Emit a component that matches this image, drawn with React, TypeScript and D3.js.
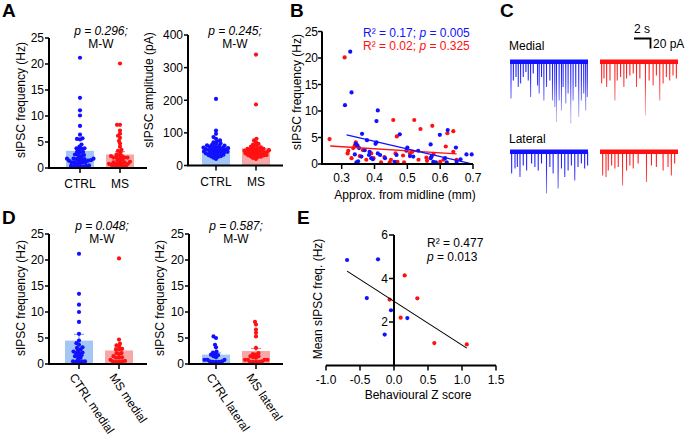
import React, { useEffect } from 'react';
import * as d3 from 'd3';

const FONT = "Arial, 'Liberation Sans', Helvetica, sans-serif";
const BLUE = '#1111ff';
const RED = '#ff1111';
const BAR_BLUE = '#a3c6f5';
const BAR_RED = '#f6a7a7';
const ERR_BLUE = '#86aef0';
const ERR_RED = '#f08a8a';

// ---------- Panel B data (distance mm, sIPSC frequency Hz) ----------
const bBlueX = [0.326, 0.31, 0.33, 0.41, 0.406, 0.362, 0.477, 0.377, 0.406, 0.403, 0.343, 0.348, 0.353, 0.34, 0.35, 0.345, 0.36, 0.385, 0.383, 0.39, 0.41, 0.417, 0.432, 0.461, 0.467, 0.5, 0.497, 0.508, 0.518, 0.533, 0.571, 0.574, 0.571, 0.579, 0.587, 0.599, 0.623, 0.615, 0.62, 0.648, 0.65, 0.662, 0.68, 0.696, 0.37, 0.395];
const bBlueY = [21.2, 11.1, 13.5, 10.1, 8.1, 5.7, 5.6, 4.5, 4.1, 3.8, 3.8, 3.5, 3.0, 1.8, 0.5, 0.3, 1.4, 2.3, 1.7, 1.1, 2.0, 1.7, 1.1, 0.4, 1.7, 3.1, 2.5, 1.5, 1.4, 2.5, 3.7, 1.4, 1.1, 0.4, 0.3, 5.5, 6.4, 1.1, 0.3, 3.1, 0.4, 0.9, 1.8, 1.8, 2.6, 0.9];
const bRedX = [0.309, 0.263, 0.457, 0.521, 0.54, 0.576, 0.622, 0.64, 0.468, 0.617, 0.343, 0.34, 0.335, 0.32, 0.318, 0.33, 0.365, 0.375, 0.39, 0.397, 0.42, 0.45, 0.446, 0.464, 0.487, 0.49, 0.508, 0.515, 0.534, 0.558, 0.56, 0.6, 0.61, 0.64, 0.65, 0.355, 0.43, 0.58, 0.47];
const bRedY = [20.1, 4.7, 8.3, 8.3, 6.6, 7.2, 5.8, 6.2, 5.2, 3.3, 4.1, 3.5, 3.0, 2.5, 2.0, 1.1, 2.6, 0.8, 2.0, 1.1, 0.3, 0.8, 0.3, 2.0, 1.6, 0.3, 2.0, 2.3, 0.8, 1.2, 0.6, 0.4, 0.8, 2.3, 0.8, 1.5, 1.3, 1.9, 0.4];
const bBlueFitX = [0.315, 0.69];
const bBlueFitY = [5.5, 0.1];
const bRedFitX = [0.265, 0.65];
const bRedFitY = [3.4, 1.9];

// ---------- Panel A ----------
const aCats = ['CTRL', 'MS'];
const aFreqMean = [3.3, 2.6];
const aFreqSem = [0.6, 0.55];
const aAmpCtrl = [204, 107, 97, 87, 82, 77, 71, 66, 61, 58, 56, 54, 51, 49, 49, 46, 44, 41, 39, 37, 35, 32, 28, 26, 31, 20, 63, 68, 74, 52, 47, 43, 38, 60, 55, 45, 42, 36, 33, 29, 24, 57, 62, 50, 40, 53];
const aAmpMs = [340, 187, 82, 77, 71, 64, 61, 56, 51, 51, 49, 46, 44, 44, 39, 37, 37, 32, 32, 31, 28, 26, 23, 20, 58, 53, 48, 42, 35, 30, 66, 45, 40, 34, 27, 54, 47, 41, 38];
const aAmpMean = [58, 54];
const aAmpSem = [5, 9];

// ---------- Panel D ----------
const dMedialCats = ['CTRL medial', 'MS medial'];
const dLateralCats = ['CTRL lateral', 'MS lateral'];
const dCtrlMedial = [21.2, 13.5, 11.4, 10.0, 8.1, 5.8, 4.5, 4.0, 3.7, 3.2, 2.8, 2.4, 2.2, 2.1, 2.1, 1.5, 3.1, 1.2, 0.5, 0.4, 0.5, 0.5, 0.4, 1.5, 1.7, 0.9, 2.6];
const dMsMedial = [20.3, 4.7, 3.9, 3.6, 3.4, 2.9, 2.8, 2.8, 2.1, 2.1, 1.9, 1.5, 1.3, 1.2, 1.2, 0.6, 0.5, 0.4, 0.4, 0.5, 0.8];
const dCtrlLateral = [5.3, 5.0, 3.7, 3.2, 2.4, 2.2, 1.9, 1.7, 1.5, 1.3, 0.8, 0.8, 0.5, 0.4, 0.4, 0.5, 0.4, 0.8, 1.8];
const dMsLateral = [8.1, 7.6, 6.6, 6.0, 5.3, 3.1, 2.1, 1.9, 1.8, 1.5, 1.5, 1.2, 1.3, 0.8, 0.8, 0.8, 0.8, 0.4, 0.4, 0.4, 0.4, 0.5];
const dMedialMean = [4.5, 2.6];
const dMedialSem = [1.2, 0.5];
const dLateralMean = [1.8, 2.5];
const dLateralSem = [0.35, 0.5];

// ---------- Panel E ----------
const eBlueX = [-0.69, -0.235, -0.4, -0.044, 0.196, -0.137];
const eBlueY = [4.85, 4.88, 3.1, 2.54, 2.18, 1.42];
const eRedX = [0.157, 0.343, -0.064, 0.098, 0.593, 1.07];
const eRedY = [4.14, 3.09, 3.03, 2.2, 1.03, 0.97];
const eFitX = [-0.69, 1.07];
const eFitY = [4.34, 0.8];

// ---------- Panel C (event time s, amplitude pA) ----------
const cMedBlueT = [0.13, 0.43, 0.77, 1.06, 1.36, 1.7, 2.04, 2.34, 2.64, 2.98, 3.53, 3.74, 4.04, 4.34, 4.68, 5.11, 5.45, 5.74, 5.96, 6.3, 6.6, 6.81, 7.15, 7.45, 7.79, 8.09, 8.43, 8.81, 9.15, 9.45, 9.7, 9.91];
const cMedBlueA = [73, 37, 30, 50, 43, 30, 20, 37, 70, 23, 47, 63, 30, 77, 50, 37, 77, 90, 120, 77, 97, 50, 83, 63, 123, 77, 50, 110, 77, 63, 97, 70];
const cMedRedT = [0.21, 0.51, 0.85, 1.28, 1.91, 2.21, 2.64, 3.06, 3.4, 3.83, 4.26, 4.68, 5.11, 5.83, 6.3, 6.81, 7.23, 7.66, 8.09, 8.51, 8.94, 9.36, 9.79];
const cMedRedA = [43, 33, 50, 37, 77, 37, 30, 50, 33, 27, 23, 50, 33, 107, 37, 47, 27, 77, 43, 30, 37, 27, 33];
const cLatBlueT = [0.21, 0.64, 0.94, 1.28, 1.7, 2.13, 2.77, 3.19, 3.62, 4.04, 4.68, 5.11, 5.53, 6.17, 6.6, 7.02, 7.45, 7.87, 8.3, 8.72, 9.15, 9.57, 9.95];
const cLatBlueA = [43, 33, 30, 50, 27, 37, 23, 30, 37, 23, 83, 30, 43, 73, 33, 50, 37, 27, 57, 30, 23, 33, 27];
const cLatRedT = [0.34, 0.77, 1.06, 1.49, 1.91, 2.34, 2.89, 3.4, 3.83, 4.26, 4.89, 5.96, 6.6, 7.23, 8.09, 8.72, 9.15, 9.57];
const cLatRedA = [47, 50, 37, 27, 33, 30, 67, 37, 27, 33, 23, 60, 27, 30, 37, 30, 47, 23];

function swarm(values: number[], cx: number, y: (v: number) => number, minDist: number) {
  const order = values.map((_, i) => i).sort((a, b) => values[a] - values[b]);
  const placed: [number, number][] = [];
  const out: [number, number][] = new Array(values.length);
  for (const i of order) {
    const py = y(values[i]);
    let best = 0;
    for (let k = 0; k < 400; k++) {
      const off = (k % 2 === 0 ? 1 : -1) * Math.ceil(k / 2) * 0.5;
      if (placed.every(([px, qy]) => (px - off) ** 2 + (qy - py) ** 2 >= minDist * minDist)) {
        best = off;
        break;
      }
    }
    placed.push([best, py]);
    out[i] = [cx + best, py];
  }
  return out;
}

type DotBarProps = {
  x0: number; x1: number; yTop: number; yBot: number;
  domain: [number, number]; ticks: number[];
  cats: string[]; catX: [number, number];
  groups: number[][]; means: number[]; sems: number[];
  rotated?: boolean;
  ylabel: string; ylabelX: number; ylabelY: number;
  pText: string; pX: number; pY: number;
};

function DotBar(p: DotBarProps) {
  const y = d3.scaleLinear().domain(p.domain).range([p.yBot, p.yTop]);
  const x = d3.scalePoint<string>().domain(p.cats).range(p.catX);
  const colors = [BLUE, RED];
  const barCols = [BAR_BLUE, BAR_RED];
  const errCols = [ERR_BLUE, ERR_RED];
  const bw = 28;
  return (
    <g>
      {p.cats.map((c, i) => (
        <rect key={'b' + i} x={(x(c) as number) - bw / 2} y={y(p.means[i])} width={bw}
          height={p.yBot - y(p.means[i])} fill={barCols[i]} />
      ))}
      {p.cats.map((c, i) => {
        const cx = x(c) as number;
        const top = y(p.means[i] + p.sems[i]);
        return (
          <g key={'e' + i} stroke={errCols[i]} strokeWidth={1.2}>
            <line x1={cx} x2={cx} y1={y(p.means[i])} y2={top} />
            <line x1={cx - 5} x2={cx + 5} y1={top} y2={top} />
          </g>
        );
      })}
      {p.groups.map((g, gi) =>
        swarm(g, x(p.cats[gi]) as number, y, 2.7).map(([px, py], i) => (
          <circle key={gi + '-' + i} cx={px} cy={py} r={2.1} fill={colors[gi]} />
        ))
      )}
      <line x1={p.x0} x2={p.x0} y1={p.yTop} y2={p.yBot} stroke="#000" strokeWidth={2} />
      <line x1={p.x0 - 1} x2={p.x1} y1={p.yBot} y2={p.yBot} stroke="#000" strokeWidth={2} />
      {p.ticks.map((t) => (
        <g key={'t' + t}>
          <line x1={p.x0 - 4} x2={p.x0} y1={y(t)} y2={y(t)} stroke="#000" strokeWidth={1.5} />
          <text x={p.x0 - 5} y={y(t)} dy="0.36em" textAnchor="end" fontSize={12}>{t}</text>
        </g>
      ))}
      {p.cats.map((c) => (
        <line key={'xt' + c} x1={x(c)} x2={x(c)} y1={p.yBot} y2={p.yBot + 5} stroke="#000" strokeWidth={1.5} />
      ))}
      {p.cats.map((c) =>
        p.rotated ? (
          <text key={'xl' + c} transform={`translate(${(x(c) as number) - 10},${p.yBot + 13}) rotate(56)`}
            fontSize={12}>{c}</text>
        ) : (
          <text key={'xl' + c} x={x(c)} y={p.yBot + 20} textAnchor="middle" fontSize={12}>{c}</text>
        )
      )}
      <text transform={`translate(${p.ylabelX},${p.ylabelY}) rotate(-90)`} textAnchor="middle" fontSize={12}>{p.ylabel}</text>
      <text x={p.pX} y={p.pY} textAnchor="middle" fontSize={12} fontStyle="italic">{p.pText}</text>
      <text x={p.pX} y={p.pY + 13} textAnchor="middle" fontSize={12}>M-W</text>
    </g>
  );
}

function Trace({ t, a, x0, base, color, light, id }: { t: number[]; a: number[]; x0: number; base: number; color: string; light: string; id: string }) {
  const xs = d3.scaleLinear().domain([0, 10]).range([x0, x0 + 78]);
  const ys = d3.scaleLinear().domain([0, 20]).range([0, 10]);
  return (
    <g>
      <defs>
        <linearGradient id={id} gradientUnits="userSpaceOnUse" x1={0} y1={base} x2={0} y2={base + 55}>
          <stop offset="0" stopColor={color} />
          <stop offset="0.35" stopColor={color} stopOpacity={0.85} />
          <stop offset="1" stopColor={light} stopOpacity={0.75} />
        </linearGradient>
      </defs>
      {t.map((tt, i) => (
        <line key={i} x1={xs(tt)} x2={xs(tt)} y1={base} y2={base + ys(a[i])} stroke={`url(#${id})`} strokeWidth={1.1} />
      ))}
      <rect x={x0} y={base - 2.5} width={78} height={4.5} fill={color} />
    </g>
  );
}

export default function App() {
  useEffect(() => {
    document.body.style.margin = '0';
  }, []);

  const bx = d3.scaleLinear().domain([0.24, 0.7]).range([322, 473]);
  const by = d3.scaleLinear().domain([0, 25]).range([164, 31.5]);
  const ex = d3.scaleLinear().domain([-1, 1.5]).range([326, 496]);
  const ey = d3.scaleLinear().domain([0, 6]).range([365.5, 235]);

  return (
    <svg width={685} height={436} style={{ position: 'absolute', left: 0, top: 0, fontFamily: FONT, background: '#fff' }}
      fontFamily={FONT}>
      <rect width={685} height={436} fill="#fff" />
      <g fontSize={19} fontWeight="bold">
        <text x={2} y={17}>A</text>
        <text x={290} y={17}>B</text>
        <text x={500} y={17}>C</text>
        <text x={2} y={224}>D</text>
        <text x={297} y={224}>E</text>
      </g>

      <DotBar x0={49} x1={147} yTop={38} yBot={168} domain={[0, 25]} ticks={[0, 5, 10, 15, 20, 25]}
        cats={aCats} catX={[80, 120]} groups={[bBlueY, bRedY]} means={aFreqMean} sems={aFreqSem}
        ylabel="sIPSC frequency (Hz)" ylabelX={25} ylabelY={100} pText="p = 0.296;" pX={101} pY={35} />
      <DotBar x0={188} x1={283} yTop={35} yBot={165.5} domain={[0, 400]} ticks={[0, 100, 200, 300, 400]}
        cats={aCats} catX={[216, 256]} groups={[aAmpCtrl, aAmpMs]} means={aAmpMean} sems={aAmpSem}
        ylabel="sIPSC amplitude (pA)" ylabelX={153} ylabelY={90} pText="p = 0.245;" pX={235} pY={35} />
      <DotBar x0={49} x1={147} yTop={234} yBot={364} domain={[0, 25]} ticks={[0, 5, 10, 15, 20, 25]}
        cats={dMedialCats} catX={[79, 119]} groups={[dCtrlMedial, dMsMedial]} means={dMedialMean} sems={dMedialSem}
        rotated ylabel="sIPSC frequency (Hz)" ylabelX={25} ylabelY={298} pText="p = 0.048;" pX={102} pY={230} />
      <DotBar x0={189} x1={283} yTop={234} yBot={364} domain={[0, 25]} ticks={[0, 5, 10, 15, 20, 25]}
        cats={dLateralCats} catX={[216, 256]} groups={[dCtrlLateral, dMsLateral]} means={dLateralMean} sems={dLateralSem}
        rotated ylabel="sIPSC frequency (Hz)" ylabelX={164} ylabelY={298} pText="p = 0.587;" pX={236} pY={230} />

      <g>
        {bRedX.map((v, i) => <circle key={'br' + i} cx={bx(v)} cy={by(bRedY[i])} r={2.1} fill={RED} />)}
        {bBlueX.map((v, i) => <circle key={'bb' + i} cx={bx(v)} cy={by(bBlueY[i])} r={2.1} fill={BLUE} />)}
        <line x1={bx(bRedFitX[0])} x2={bx(bRedFitX[1])} y1={by(bRedFitY[0])} y2={by(bRedFitY[1])} stroke={RED} strokeWidth={1.3} />
        <line x1={bx(bBlueFitX[0])} x2={bx(bBlueFitX[1])} y1={by(bBlueFitY[0])} y2={by(bBlueFitY[1])} stroke={BLUE} strokeWidth={1.3} />
        <line x1={322} x2={322} y1={by(25)} y2={by(0)} stroke="#000" strokeWidth={2} />
        <line x1={321} x2={bx(0.7)} y1={by(0)} y2={by(0)} stroke="#000" strokeWidth={2} />
        {by.ticks(5).map((t) => (
          <g key={'byt' + t}>
            <line x1={318} x2={322} y1={by(t)} y2={by(t)} stroke="#000" strokeWidth={1.5} />
            <text x={318} y={by(t)} dy="0.36em" textAnchor="end" fontSize={12}>{t}</text>
          </g>
        ))}
        {[0.3, 0.4, 0.5, 0.6, 0.7].map((t) => (
          <g key={'bxt' + t}>
            <line x1={bx(t)} x2={bx(t)} y1={164} y2={169} stroke="#000" strokeWidth={1.5} />
            <text x={bx(t)} y={182} textAnchor="middle" fontSize={12}>{t.toFixed(1)}</text>
          </g>
        ))}
        <text x={405} y={199} textAnchor="middle" fontSize={12}>Approx. from midline (mm)</text>
        <text transform="translate(301,92) rotate(-90)" textAnchor="middle" fontSize={12}>sIPSC frequency (Hz)</text>
        <text x={363} y={37} fontSize={12} fill={BLUE}>R² = 0.17; <tspan fontStyle="italic">p</tspan> = 0.005</text>
        <text x={363} y={50} fontSize={12} fill={RED}>R² = 0.02; <tspan fontStyle="italic">p</tspan> = 0.325</text>
      </g>

      <g>
        <text x={509} y={50} fontSize={12}>Medial</text>
        <text x={509} y={143} fontSize={12}>Lateral</text>
        <Trace t={cMedBlueT} a={cMedBlueA} x0={510} base={62} color={BLUE} light="#a9a9f2" id="gmb" />
        <Trace t={cMedRedT} a={cMedRedA} x0={600} base={62} color={RED} light="#f5b0b0" id="gmr" />
        <Trace t={cLatBlueT} a={cLatBlueA} x0={510} base={152} color={BLUE} light="#a9a9f2" id="glb" />
        <Trace t={cLatRedT} a={cLatRedA} x0={600} base={152} color={RED} light="#f5b0b0" id="glr" />
        <path d="M634,38.5 H650.5 V48.5" fill="none" stroke="#000" strokeWidth={1.8} />
        <text x={642} y={33} textAnchor="middle" fontSize={12}>2 s</text>
        <text x={653} y={48} fontSize={12}>20 pA</text>
      </g>

      <g>
        {eBlueX.map((v, i) => <circle key={'eb' + i} cx={ex(v)} cy={ey(eBlueY[i])} r={2.1} fill={BLUE} />)}
        {eRedX.map((v, i) => <circle key={'er' + i} cx={ex(v)} cy={ey(eRedY[i])} r={2.1} fill={RED} />)}
        <line x1={ex(eFitX[0])} x2={ex(eFitX[1])} y1={ey(eFitY[0])} y2={ey(eFitY[1])} stroke="#000" strokeWidth={1.1} />
        <line x1={ex(0)} x2={ex(0)} y1={ey(6)} y2={ey(0)} stroke="#000" strokeWidth={2} />
        <line x1={ex(-1)} x2={ex(1.5)} y1={ey(0)} y2={ey(0)} stroke="#000" strokeWidth={2} />
        {[2, 4, 6].map((t) => (
          <g key={'eyt' + t}>
            <line x1={ex(0) - 5} x2={ex(0)} y1={ey(t)} y2={ey(t)} stroke="#000" strokeWidth={1.5} />
            <text x={ex(0) - 6} y={ey(t)} dy="0.36em" textAnchor="end" fontSize={12}>{t}</text>
          </g>
        ))}
        {[-1, -0.5, 0, 0.5, 1, 1.5].map((t) => (
          <g key={'ext' + t}>
            <line x1={ex(t)} x2={ex(t)} y1={ey(0)} y2={ey(0) + 5} stroke="#000" strokeWidth={1.5} />
            <text x={ex(t)} y={ey(0) + 18} textAnchor="middle" fontSize={12}>{t.toFixed(1)}</text>
          </g>
        ))}
        <text x={418} y={399} textAnchor="middle" fontSize={12}>Behavioural Z score</text>
        <text transform="translate(322,299) rotate(-90)" textAnchor="middle" fontSize={12}>Mean sIPSC freq. (Hz)</text>
        <text x={427} y={247} fontSize={12}>R² = 0.477</text>
        <text x={427} y={261} fontSize={12}><tspan fontStyle="italic">p</tspan> = 0.013</text>
      </g>
    </svg>
  );
}
